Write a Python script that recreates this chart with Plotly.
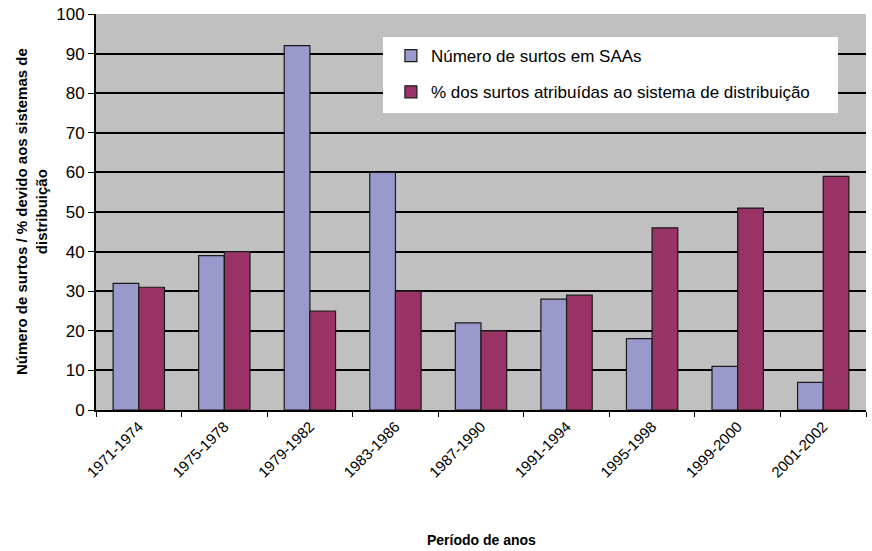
import plotly.graph_objects as go

periods = ["1971-1974", "1975-1978", "1979-1982", "1983-1986", "1987-1990",
           "1991-1994", "1995-1998", "1999-2000", "2001-2002"]
surtos = [32, 39, 92, 60, 22, 28, 18, 11, 7]
pct_distrib = [31, 40, 25, 30, 20, 29, 46, 51, 59]
yticks = [0, 10, 20, 30, 40, 50, 60, 70, 80, 90, 100]

FONT = "Liberation Sans, Arial, sans-serif"

fig = go.Figure()
fig.add_trace(go.Bar(x=periods, y=surtos, name="Número de surtos em SAAs", legendgroup="a",
                     marker=dict(color="#9999cc", line=dict(color="#1a1a1a", width=1.2))))
fig.add_trace(go.Bar(x=periods, y=pct_distrib, name="% dos surtos atribuídas ao sistema de distribuição",
                     legendgroup="b",
                     marker=dict(color="#993366", line=dict(color="#1a1a1a", width=1.2))))

fig.update_layout(
    width=872, height=551,
    margin=dict(l=96, r=6, t=14, b=141, autoexpand=False),
    paper_bgcolor="white", plot_bgcolor="#c0c0c0",
    font=dict(family=FONT, size=13, color="black"),
    barmode="group", bargap=0.4, bargroupgap=0,
    showlegend=True,
    legend=dict(x=0.383, y=0.939, xanchor="left", yanchor="top",
                bgcolor="rgba(0,0,0,0)", borderwidth=0,
                font=dict(size=17), itemwidth=30, tracegroupgap=11,
                traceorder="grouped"),
    shapes=[dict(type="rect", xref="paper", yref="paper", x0=0.3727, x1=0.9636,
                 y0=0.75, y1=0.942, fillcolor="white", line=dict(width=0), layer="above")],
    xaxis=dict(showgrid=False, showline=True, linecolor="black", linewidth=2,
               ticks="outside", tickcolor="black", ticklen=5, tickson="boundaries",
               tickangle=-45, tickfont=dict(size=15), automargin=False),
    yaxis=dict(range=[0, 100], tickvals=yticks, showgrid=True, gridcolor="black", gridwidth=1.5,
               showline=True, linecolor="black", linewidth=2, ticks="outside", tickcolor="black",
               ticklen=6, tickfont=dict(size=17), zeroline=False, automargin=False),
    annotations=[
        dict(text="<b>Período de anos</b>", xref="paper", yref="paper", x=0.5, y=-0.328,
             xanchor="center", yanchor="middle", showarrow=False, font=dict(size=14)),
        dict(text="<b>Número de surtos / % devido aos sistemas de<br>distribuição</b>",
             xref="paper", yref="paper", x=-0.0844, y=0.5, xanchor="center", yanchor="middle",
             textangle=-90, showarrow=False, font=dict(size=15)),
    ],
)

fig.write_html("out.html", config={"displayModeBar": False},
               post_script="document.body.style.margin='0';")
